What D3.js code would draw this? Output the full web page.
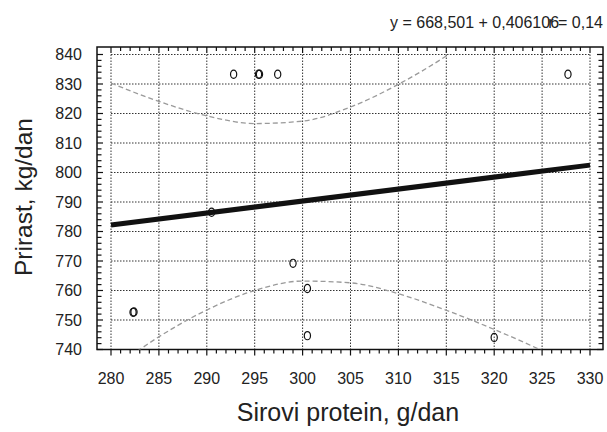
<!DOCTYPE html>
<html>
<head>
<meta charset="utf-8">
<script src="https://cdn.jsdelivr.net/npm/d3@7"></script>
<style>
html,body{margin:0;padding:0;background:#fff;}
svg{display:block;font-family:"Liberation Sans",Arial,sans-serif;}
</style>
</head>
<body>
<svg id="chart" width="607" height="432"></svg>
<script>
// ---- data ----
const pointX = [282.3, 282.4, 290.5, 292.8, 295.4, 295.5, 297.4, 299.0, 300.5, 300.5, 320.0, 327.7];
const pointY = [752.6, 752.7, 786.5, 833.3, 833.3, 833.3, 833.3, 769.2, 760.7, 744.7, 744.1, 833.3];
const fitX = [280, 330];
const fitY = [782.2, 802.5];
const upperX = [280, 285, 290, 295, 300, 305, 310, 315, 320];
const upperY = [830.3, 824.1, 819.2, 816.6, 817.4, 822.2, 829.9, 839.5, 851.0];
const lowerX = [280, 285, 290, 295, 300, 305, 310, 315, 320, 325, 330];
const lowerY = [733.0, 744.3, 753.4, 760.0, 763.2, 762.6, 758.9, 753.3, 746.8, 739.6, 731.5];
const xTicks = [280, 285, 290, 295, 300, 305, 310, 315, 320, 325, 330];
const yTicks = [740, 750, 760, 770, 780, 790, 800, 810, 820, 830, 840];
const xTitle = "Sirovi protein, g/dan";
const yTitle = "Prirast, kg/dan";
const eqText = "y = 668,501 + 0,406106";
const rText = "r = 0,14";

// ---- layout ----
const svg = d3.select("#chart");
const frame = {left: 97, right: 603, top: 47, bottom: 349.5};
const x = d3.scaleLinear().domain([280, 330]).range([111, 590]);
const y = d3.scaleLinear().domain([740, 840]).range([349.5, 54.5]);

// clip for curves (grid box)
svg.append("defs").append("clipPath").attr("id", "gridclip")
  .append("rect")
  .attr("x", x(280)).attr("y", y(840))
  .attr("width", x(330) - x(280)).attr("height", y(740) - y(840));

// grid
const grid = svg.append("g");
grid.selectAll("line.gx").data(xTicks).join("line")
  .attr("x1", d => x(d)).attr("x2", d => x(d))
  .attr("y1", y(840)).attr("y2", y(740))
  .attr("stroke", "#333").attr("stroke-width", 1).attr("stroke-dasharray", "1.5,1.5");
grid.selectAll("line.gy").data(yTicks).join("line")
  .attr("x1", x(280)).attr("x2", x(330))
  .attr("y1", d => y(d)).attr("y2", d => y(d))
  .attr("stroke", "#333").attr("stroke-width", 1).attr("stroke-dasharray", "1.5,1.5");

// frame
svg.append("rect")
  .attr("x", frame.left).attr("y", frame.top)
  .attr("width", frame.right - frame.left).attr("height", frame.bottom - frame.top)
  .attr("fill", "none").attr("stroke", "#111").attr("stroke-width", 1.5);

// ticks
const xMinor = x.ticks(50);
const yMinor = y.ticks(50).filter(v => v % 2 === 0);
const isMajX = v => xTicks.includes(v);
const isMajY = v => yTicks.includes(v);
const tk = svg.append("g").attr("stroke", "#111").attr("stroke-width", 1.2);
// bottom (outward)
tk.selectAll("line.b").data(xMinor).join("line")
  .attr("x1", d => x(d)).attr("x2", d => x(d))
  .attr("y1", frame.bottom).attr("y2", d => frame.bottom + (isMajX(d) ? 6 : 4));
// top (inward)
tk.selectAll("line.t").data(xMinor).join("line")
  .attr("x1", d => x(d)).attr("x2", d => x(d))
  .attr("y1", frame.top).attr("y2", d => frame.top + (isMajX(d) ? 6 : 4));
// left (inward)
tk.selectAll("line.l").data(yMinor).join("line")
  .attr("x1", frame.left).attr("x2", d => frame.left + (isMajY(d) ? 6 : 4.5))
  .attr("y1", d => y(d)).attr("y2", d => y(d));
// right (inward)
tk.selectAll("line.r").data(yMinor).join("line")
  .attr("x1", frame.right).attr("x2", d => frame.right - (isMajY(d) ? 6 : 4.5))
  .attr("y1", d => y(d)).attr("y2", d => y(d));

// tick labels
svg.append("g").selectAll("text").data(xTicks).join("text")
  .attr("x", d => x(d)).attr("y", 384)
  .attr("text-anchor", "middle").attr("font-size", 16).attr("fill", "#222")
  .text(d => d);
svg.append("g").selectAll("text").data(yTicks).join("text")
  .attr("x", 82).attr("y", d => y(d) + 5.7)
  .attr("text-anchor", "end").attr("font-size", 16).attr("fill", "#222")
  .text(d => d);

// titles
svg.append("text").attr("x", 348).attr("y", 421)
  .attr("text-anchor", "middle").attr("font-size", 25).attr("fill", "#222")
  .text(xTitle);
svg.append("text").attr("transform", "translate(31.5,197) rotate(-90)")
  .attr("text-anchor", "middle").attr("font-size", 24.5).attr("fill", "#222")
  .text(yTitle);

// equation
svg.append("text").attr("x", 390).attr("y", 28).attr("font-size", 16).attr("fill", "#222").text(eqText);
svg.append("text").attr("x", 603).attr("y", 28).attr("text-anchor", "end").attr("font-size", 16).attr("fill", "#222").text(rText);

// confidence bands
const plot = svg.append("g").attr("clip-path", "url(#gridclip)");
const bandLine = d3.line().x(d => x(d[0])).y(d => y(d[1])).curve(d3.curveMonotoneX);
plot.append("path").datum(d3.zip(upperX, upperY)).attr("d", bandLine)
  .attr("fill", "none").attr("stroke", "#9a9a9a").attr("stroke-width", 1.3).attr("stroke-dasharray", "5,3");
plot.append("path").datum(d3.zip(lowerX, lowerY)).attr("d", bandLine)
  .attr("fill", "none").attr("stroke", "#9a9a9a").attr("stroke-width", 1.3).attr("stroke-dasharray", "5,3");

// regression line
svg.append("path").datum(d3.zip(fitX, fitY))
  .attr("d", d3.line().x(d => x(d[0])).y(d => y(d[1])))
  .attr("fill", "none").attr("stroke", "#111").attr("stroke-width", 5);

// points
svg.append("g").selectAll("ellipse").data(d3.zip(pointX, pointY)).join("ellipse")
  .attr("cx", d => x(d[0])).attr("cy", d => y(d[1]))
  .attr("rx", 3.1).attr("ry", 4.1)
  .attr("fill", "none").attr("stroke", "#111").attr("stroke-width", 1.2);
</script>
</body>
</html>
